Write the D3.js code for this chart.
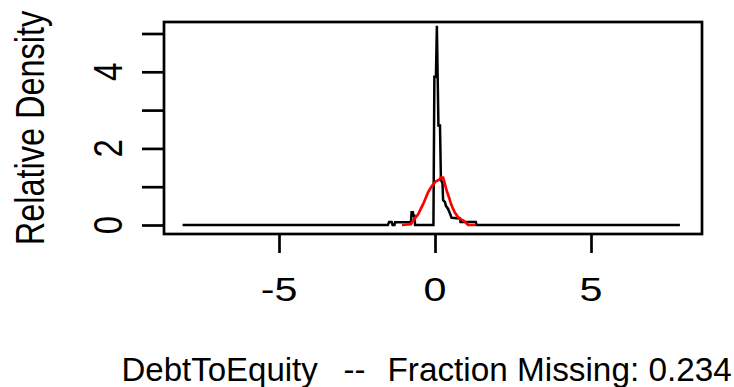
<!DOCTYPE html>
<html>
<head>
<meta charset="utf-8">
<script src="https://cdn.jsdelivr.net/npm/d3@7"></script>
<style>
  html, body { margin: 0; padding: 0; background: #fff; }
  svg { display: block; }
  text { font-family: "Liberation Sans", Arial, sans-serif; fill: #000; }
</style>
</head>
<body>
<script>
// Density of DebtToEquity (black) and a smoothed reference density (red)
const blackX = [-8.09, -1.51, -1.47, -1.39, -1.36, -1.30, -1.28, -0.77, -0.75, -0.71, -0.69, -0.66, -0.64,
                -0.05, -0.02, 0.03, 0.06, 0.11, 0.16, 0.19, 0.24, 0.26, 0.32, 0.35, 0.42, 0.48, 0.53,
                0.80, 0.82, 1.31, 1.33, 7.85];
const blackY = [0, 0, 0.08, 0.08, 0, 0, 0.07, 0.07, 0.33, 0.33, 0.24, 0.24, 0,
                0, 3.87, 3.87, 5.2, 2.6, 2.6, 1.17, 1.1, 0.65, 0.6, 0.5, 0.42, 0.3, 0.19,
                0.17, 0.08, 0.08, 0, 0];

const redX = [-1.06, -0.77, -0.74, -0.64, -0.54, -0.48, -0.42, -0.35, -0.29, -0.22, -0.13, -0.06,
              0.03, 0.13, 0.19, 0.26, 0.32, 0.38, 0.45, 0.51, 0.58, 0.64, 0.71, 0.80, 0.90, 0.99, 1.06, 1.31];
const redY = [0, 0.02, 0.07, 0.18, 0.28, 0.38, 0.48, 0.60, 0.72, 0.86, 0.98, 1.06,
              1.14, 1.18, 1.24, 1.24, 1.06, 0.88, 0.72, 0.56, 0.42, 0.32, 0.24, 0.16, 0.12, 0.06, 0, 0];

const xTicks = [-5, 0, 5];
const yTicks = [0, 1, 2, 3, 4, 5];
const yTickLabels = [0, 2, 4];

const varName = "DebtToEquity";
const fractionMissing = 0.234;
const yTitle = "Relative Density";

const W = 734, H = 387;
const box = { left: 164, right: 702, top: 22, bottom: 234 };

const x = d3.scaleLinear().domain([-5, 5]).range([279, 591]);
const y = d3.scaleLinear().domain([0, 5]).range([225, 33.5]);

const svg = d3.select("body").append("svg")
  .attr("width", W).attr("height", H);

// plot frame
svg.append("rect")
  .attr("x", box.left).attr("y", box.top)
  .attr("width", box.right - box.left).attr("height", box.bottom - box.top)
  .attr("fill", "none").attr("stroke", "#000").attr("stroke-width", 2.7);

// y axis ticks (labels drawn separately, rotated as in base R graphics)
const gy = svg.append("g").attr("transform", `translate(${box.left},0)`)
  .call(d3.axisLeft(y).tickValues(yTicks).tickSize(22).tickSizeOuter(0).tickFormat(""));
gy.select(".domain").remove();
gy.selectAll(".tick line").attr("stroke", "#000").attr("stroke-width", 2.7);

svg.append("g").selectAll("text")
  .data(yTickLabels)
  .join("text")
  .attr("transform", d => `translate(122,${y(d)}) scale(1.23,1) rotate(-90)`)
  .attr("text-anchor", "middle")
  .style("font-size", "33px")
  .text(d => String(d));

// x axis ticks
const gx = svg.append("g").attr("transform", `translate(0,${box.bottom})`)
  .call(d3.axisBottom(x).tickValues(xTicks).tickSize(19).tickSizeOuter(0).tickFormat(""));
gx.select(".domain").remove();
gx.selectAll(".tick line").attr("stroke", "#000").attr("stroke-width", 2.7);

svg.append("g").selectAll("text")
  .data(xTicks)
  .join("text")
  .attr("transform", d => `translate(${x(d)},301) scale(1.25,1)`)
  .attr("text-anchor", "middle")
  .style("font-size", "33px")
  .text(d => d < 0 ? "-" + Math.abs(d) : String(d));

// curves
const line = d3.line().x(d => x(d[0])).y(d => y(d[1]));
svg.append("path")
  .datum(d3.zip(blackX, blackY))
  .attr("d", line)
  .attr("fill", "none").attr("stroke", "#000").attr("stroke-width", 2.5);
svg.append("path")
  .datum(d3.zip(redX, redY))
  .attr("d", line)
  .attr("fill", "none").attr("stroke", "#ff0000").attr("stroke-width", 2.7);

// axis titles
svg.append("text")
  .attr("transform", `translate(43.5,${(box.top + box.bottom) / 2}) scale(1.27,1) rotate(-90)`)
  .attr("text-anchor", "middle")
  .style("font-size", "32.5px")
  .text(yTitle);

const title = svg.append("text").attr("y", 381).style("font-size", "33px");
title.append("tspan").attr("x", 121.5).text(varName);
title.append("tspan").attr("x", 343.5).text("--");
title.append("tspan").attr("x", 387.5).style("font-size", "33.3px").text(`Fraction Missing: ${fractionMissing}`);
</script>
</body>
</html>
